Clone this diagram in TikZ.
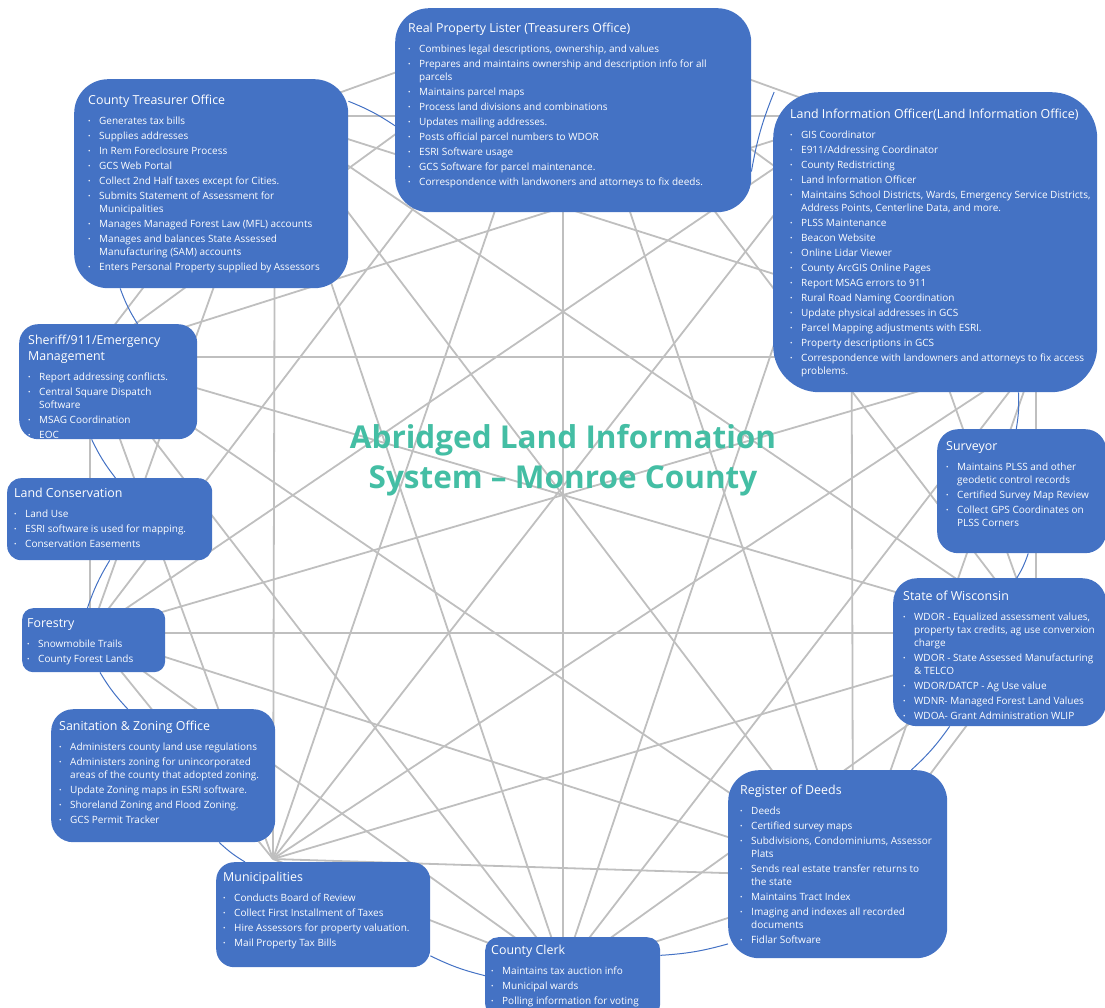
\documentclass[tikz,border=0pt]{standalone}
\usepackage{fontspec}
\setmainfont{Open Sans}
\usepackage{tikz}
\usepackage{xcolor}

\definecolor{boxblue}{RGB}{68,114,196}
\definecolor{spokegray}{RGB}{191,191,191}
\definecolor{titleteal}{RGB}{68,190,164}

\newcommand{\ttlfont}{\fontsize{12.4}{16}\selectfont}
\newcommand{\bodyfont}{\fontsize{10}{13}\selectfont}
% width, height, inset, first baseline, text
\newcommand{\panel}[5]{%
  \begin{minipage}[t][#2pt][t]{#1pt}%
  \color{white}\bodyfont\leftskip=#3pt\parindent=0pt\parskip=2pt\rightskip=0pt plus 1fil
  \rule{0pt}{#4pt}#5%
  \end{minipage}}
\newcommand{\ttl}[1]{{\ttlfont #1\par}\vspace{5pt}}
\newcommand{\itm}{\par\hangindent=11pt\hangafter=1\makebox[11pt][l]{\raisebox{1pt}{\fontsize{6.5}{6.5}\selectfont\textbullet}}}

\begin{document}
\begin{tikzpicture}[x=1pt,y=1pt,
  spoke/.style={draw=spokegray,line width=1.8pt},
  office/.style={fill=boxblue,inner sep=0pt,anchor=north west},
  ring/.style={draw=boxblue,line width=1pt}]
\useasboundingbox (0,0) rectangle (1105,-1008);

% web behind the offices
\foreach \x/\y [count=\k from 0] in {563/12,851/116,1036/357,1036/633,853/877,563/972,273/859,90/633,90/357,275/116}
  \coordinate (v\k) at (\x,-\y);
\foreach \i [evaluate=\i as \n using int(\i+1)] in {0,...,8}
  \foreach \j in {\n,...,9}
    \draw[spoke] (v\i) -- (v\j);

\node[font=\fontsize{31.5}{40}\selectfont\bfseries,text=titleteal,align=center] (heading) at (563,-460)
  {Abridged Land Information\\System – Monroe County};

\node[office,rounded corners=34pt] (rpl) at (395,-8) {\panel{356}{204}{13}{24}{%
  \ttl{Real Property Lister (Treasurers Office)}%
  \itm Combines legal descriptions, ownership, and values
  \itm Prepares and maintains ownership and description info for all\newline parcels
  \itm Maintains parcel maps
  \itm Process land divisions and combinations
  \itm Updates mailing addresses.
  \itm Posts official parcel numbers to WDOR
  \itm ESRI Software usage
  \itm GCS Software for parcel maintenance.
  \itm Correspondence with landwoners and attorneys to fix deeds.}};

\node[office,rounded corners=34pt] (treas) at (74,-79) {\panel{274}{209}{14}{25}{%
  \ttl{County Treasurer Office}%
  \itm Generates tax bills
  \itm Supplies addresses
  \itm In Rem Foreclosure Process
  \itm GCS Web Portal
  \itm Collect 2nd Half taxes except for Cities.
  \itm Submits Statement of Assessment for\newline Municipalities
  \itm Manages Managed Forest Law (MFL) accounts
  \itm Manages and balances State Assessed\newline Manufacturing (SAM) accounts
  \itm Enters Personal Property supplied by Assessors}};

\node[office,rounded corners=46pt] (lio) at (773,-92) {\panel{324}{300}{17}{26}{%
  \ttl{Land Information Officer(Land Information Office)}%
  \itm GIS Coordinator
  \itm E911/Addressing Coordinator
  \itm County Redistricting
  \itm Land Information Officer
  \itm Maintains School Districts, Wards, Emergency Service Districts,\newline Address Points, Centerline Data, and more.
  \itm PLSS Maintenance
  \itm Beacon Website
  \itm Online Lidar Viewer
  \itm County ArcGIS Online Pages
  \itm Report MSAG errors to 911
  \itm Rural Road Naming Coordination
  \itm Update physical addresses in GCS
  \itm Parcel Mapping adjustments with ESRI.
  \itm Property descriptions in GCS
  \itm Correspondence with landowners and attorneys to fix access\newline problems.}};

\node[office,rounded corners=19pt] (sher) at (19,-324) {\panel{178}{115}{9}{20}{%
  \ttl{Sheriff/911/Emergency\newline Management}%
  \itm Report addressing conflicts.
  \itm Central Square Dispatch\newline Software
  \itm MSAG Coordination
  \itm EOC}};

\node[office,rounded corners=14pt] (lcons) at (7,-478) {\panel{205}{82}{7}{19}{%
  \ttl{Land Conservation}%
  \itm Land Use
  \itm ESRI software is used for mapping.
  \itm Conservation Easements}};

\node[office,rounded corners=11pt] (fore) at (22,-608) {\panel{143}{64}{5}{19}{%
  \ttl{Forestry}%
  \itm Snowmobile Trails
  \itm County Forest Lands}};

\node[office,rounded corners=22pt] (sani) at (51,-709) {\panel{224}{133}{8}{21}{%
  \ttl{Sanitation \& Zoning Office}%
  \itm Administers county land use regulations
  \itm Administers zoning for unincorporated\newline areas of the county that adopted zoning.
  \itm Update Zoning maps in ESRI software.
  \itm Shoreland Zoning and Flood Zoning.
  \itm GCS Permit Tracker}};

\node[office,rounded corners=18pt] (muni) at (216,-862) {\panel{214}{105}{7}{19}{%
  \ttl{Municipalities}%
  \itm Conducts Board of Review
  \itm Collect First Installment of Taxes
  \itm Hire Assessors for property valuation.
  \itm Mail Property Tax Bills}};

\node[office,rounded corners=13pt] (clerk) at (485,-937) {\panel{175}{80}{6}{17}{%
  \ttl{County Clerk}%
  \itm Maintains tax auction info
  \itm Municipal wards
  \itm Polling information for voting}};

\node[office,rounded corners=31pt] (rod) at (728,-770) {\panel{219}{188}{12}{24}{%
  \ttl{Register of Deeds}%
  \itm Deeds
  \itm Certified survey maps
  \itm Subdivisions, Condominiums, Assessor\newline Plats
  \itm Sends real estate transfer returns to\newline the state
  \itm Maintains Tract Index
  \itm Imaging and indexes all recorded\newline documents
  \itm Fidlar Software}};

\node[office,rounded corners=21pt] (surv) at (937,-429) {\panel{169}{124}{9}{21}{%
  \ttl{Surveyor}%
  \itm Maintains PLSS and other\newline geodetic control records
  \itm Certified Survey Map Review
  \itm Collect GPS Coordinates on\newline PLSS Corners}};

\node[office,rounded corners=24pt] (sow) at (893,-578) {\panel{213}{148}{10}{22}{%
  \ttl{State of Wisconsin}%
  \itm WDOR - Equalized assessment values,\newline property tax credits, ag use converxion\newline charge
  \itm WDOR - State Assessed Manufacturing\newline \& TELCO
  \itm WDOR/DATCP - Ag Use value
  \itm WDNR- Managed Forest Land Values
  \itm WDOA- Grant Administration WLIP}};

% cycle between neighbouring offices
\draw[ring] (treas.31) to[bend left=6] (rpl.185);
\draw[ring] (rpl.-19) to[bend left=6] (lio.137);
\draw[ring] (lio.-61) to[bend left=6] (surv.95);
\draw[ring] (surv.-84) to[bend left=6] (sow.77);
\draw[ring] (sow.-124) to[bend left=6] (rod.52);
\draw[ring] (rod.216) to[bend left=6] (clerk.14);
\draw[ring] (clerk.179) to[bend left=6] (muni.-21);
\draw[ring] (muni.146) to[bend left=6] (sani.-50);
\draw[ring] (sani.118) to[bend left=6] (fore.-79);
\draw[ring] (fore.101) to[bend left=6] (lcons.-90);
\draw[ring] (lcons.82) to[bend left=6] (sher.-106);
\draw[ring] (sher.63) to[bend left=6] (treas.-131);
\end{tikzpicture}
\end{document}
